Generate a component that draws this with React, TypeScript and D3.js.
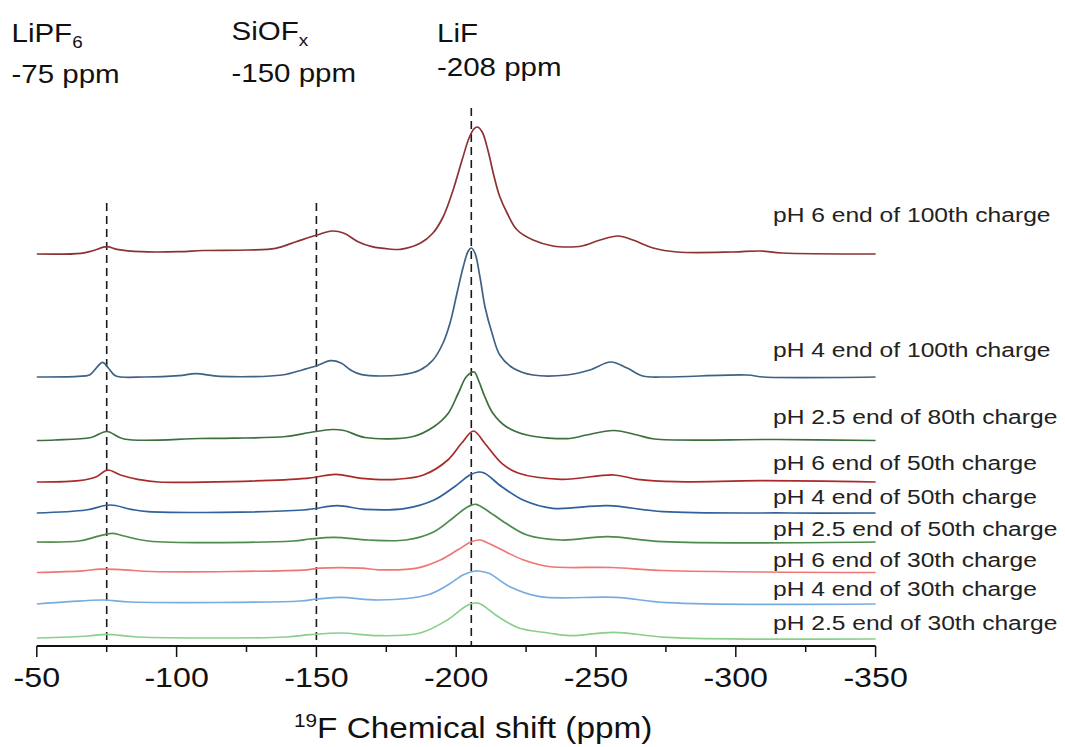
import React from "react";
import * as d3 from "d3";

// ---- data: [ppm, intensity above own baseline] ----
const pH6_100: [number, number][] = [[-50,0],[-65.8,0.7],[-70.1,3.3],[-75,7.3],[-78.7,4.7],[-87.3,2.3],[-100.9,2.3],[-109.5,3.5],[-125.5,4],[-135.4,5.7],[-142.7,12.3],[-150.2,19],[-155.6,23],[-159.9,20.7],[-164.9,12.3],[-169.9,7.3],[-176,5],[-180,4.7],[-187.1,10.7],[-191.7,21],[-195.3,37],[-198.9,64],[-202.1,94],[-204.6,116],[-206.3,125],[-207.6,127],[-209.3,122],[-211.5,102],[-213.5,78],[-215.5,58],[-218.2,41],[-221.8,24],[-227.5,14],[-234.6,8],[-240,7],[-245,8],[-251.5,14],[-257.9,18],[-263.2,14],[-270.4,6],[-279,2],[-299,2],[-308.7,3],[-316.5,1],[-350,0]];
const pH4_100: [number, number][] = [[-50,0],[-64.6,0.7],[-68.8,2],[-73.5,14.7],[-75.6,9],[-78.1,1.3],[-88.6,0],[-100.9,1.3],[-106.9,3.3],[-115.5,0.7],[-137.7,2],[-145.2,7.3],[-150.2,11.3],[-155.1,16.3],[-158.8,14],[-162.4,6.7],[-166.2,2.3],[-179.9,2],[-187.1,7],[-191.7,17],[-195.3,34],[-197.8,54],[-200.3,84],[-202.5,110],[-204.3,126],[-205.4,129],[-206.7,124],[-208.5,100],[-210.3,70],[-212.8,44],[-215.6,22],[-220.3,9],[-227.5,2],[-239.6,2],[-247.8,7],[-255.3,15],[-261.1,9],[-266.8,1],[-274,0],[-304,2],[-310,0],[-350,0]];
const pH25_80: [number, number][] = [[-50,0],[-56.5,0.5],[-69.4,3],[-75,9],[-81.2,1.5],[-108.4,2],[-120.5,2.3],[-139.1,4],[-147.7,8],[-155.6,11],[-159.9,10],[-167.4,3],[-184.6,4],[-192.1,14],[-197.1,27],[-200.7,47],[-203.7,64],[-206.4,68.5],[-208,60],[-210.2,44],[-213.2,27],[-217.8,14],[-225.3,5.5],[-240.6,2],[-246.6,5.5],[-256.4,10],[-264.8,5.5],[-270.9,1.5],[-314.9,1],[-350,0]];
const pH6_50: [number, number][] = [[-50,0],[-65.1,1.3],[-71.3,5.3],[-75.3,12],[-79.9,7],[-86.1,2.7],[-93.5,0],[-146.5,3.7],[-156.9,7.7],[-166.2,3.7],[-178.5,2.7],[-188.3,7],[-197,22],[-201.9,38.7],[-206.2,51],[-210.2,38.7],[-216.3,18.7],[-222.4,8.7],[-237.5,2.7],[-256.4,7],[-264.8,2.7],[-278.5,0.3],[-308.8,1.3],[-350,0]];
const pH4_50: [number, number][] = [[-50,0],[-67.6,3],[-76.2,8],[-83.7,3.7],[-89.8,1.3],[-145.2,3],[-157.5,7.3],[-167.4,3.7],[-182,4.7],[-192.1,13],[-199.4,26.3],[-204.9,38],[-208,41],[-210.2,39.7],[-216.3,26.3],[-223.9,13],[-234.5,4.7],[-254.2,7.3],[-274,1.3],[-319.4,0],[-350,0]];
const pH25_50: [number, number][] = [[-50,0],[-65.1,1],[-71.3,5.3],[-76.9,8.7],[-81.2,6],[-89.8,1],[-141.6,1],[-147.7,3],[-156.3,4.7],[-168.6,2],[-182,2],[-192.1,10.3],[-199.4,25.3],[-204.2,35.3],[-207.1,37.7],[-211.7,30.3],[-217.8,18.7],[-225.3,7],[-237.5,2],[-254.2,5.3],[-274,0.3],[-350,0]];
const pH6_30: [number, number][] = [[-50,0],[-66.4,1.7],[-72.6,3.3],[-81.2,2.7],[-91,1],[-146.5,2.7],[-151.3,4.3],[-166.2,4.3],[-172.3,2.7],[-185.9,4.3],[-194.5,12.7],[-200.6,22.7],[-205.6,31],[-208.5,32.5],[-210.2,31],[-216.3,22.7],[-223.9,12.7],[-233,6],[-255.7,5],[-274,2],[-350,0]];
const pH4_30: [number, number][] = [[-50,0],[-61.5,2.3],[-73.7,4],[-83.7,2],[-144.1,3],[-150.2,5],[-158.8,6.7],[-172.3,4],[-189.6,9],[-197,19],[-202.4,29],[-206.7,33],[-208,33],[-211.7,30.7],[-219.2,17.3],[-230,7.3],[-257.1,6.7],[-275.4,1.3],[-350,0]];
const pH25_30: [number, number][] = [[-50,0],[-68.2,2],[-75,3.7],[-86.1,1],[-139.1,1],[-147.7,3.3],[-158.8,5],[-172.3,2.3],[-187.1,5],[-197,18.3],[-203.7,32.3],[-206.7,35],[-208.7,34],[-214.8,21.7],[-222.4,10],[-233,5],[-240.6,2.3],[-256.4,5.7],[-275.4,0.7],[-350,-1]];

const spectra = [pH6_100, pH4_100, pH25_80, pH6_50, pH4_50, pH25_50, pH6_30, pH4_30, pH25_30];
const offsets = [392, 269, 205.5, 164, 133, 104, 73.5, 42, 8];
const labels = [
  "pH 6 end of 100th charge",
  "pH 4 end of 100th charge",
  "pH 2.5 end of 80th charge",
  "pH 6 end of 50th charge",
  "pH 4 end of 50th charge",
  "pH 2.5 end of 50th charge",
  "pH 6 end of 30th charge",
  "pH 4 end of 30th charge",
  "pH 2.5 end of 30th charge",
];
const labelLevels = [424, 289, 222, 176, 142, 110, 79, 50, 16];
const colors = ["#8B3232", "#3F6184", "#3D6F3D", "#A82A2A", "#30619A", "#4B8B4B", "#F07575", "#78ACE0", "#8ACF8A"];

const markerPpm = [-75, -150, -205.4];
const markerTop = [443, 443, 538];
const markerNames = ["LiPF", "SiOF", "LiF"];
const markerSubs = ["6", "x", ""];
const markerValues = ["-75 ppm", "-150 ppm", "-208 ppm"];

const xTicks = [-50, -100, -150, -200, -250, -300, -350];
const xMinorTicks = [-75, -125, -175, -225, -275, -325];

const W = 1065, H = 747;

export default function App() {
  const x = d3.scaleLinear().domain([-50, -350]).range([36.8, 875.6]);
  const y = d3.scaleLinear().domain([0, 540]).range([646, 106]);
  const axisY = y(0);

  const lines = spectra.map((s, i) =>
    d3.line<[number, number]>()
      .x((d) => x(d[0]))
      .y((d) => y(d[1] + offsets[i]))
      .curve(d3.curveCatmullRom.alpha(0.5))(s) as string
  );

  const font = "Arial, 'Liberation Sans', sans-serif";
  const headerX = [11.5, 231.5, 437];
  const headerY1 = [41.7, 39.5, 41.7];
  const headerY2 = [83, 81.7, 76];

  return (
    <svg width={W} height={H} style={{ position: "absolute", left: 0, top: 0, background: "#fff" }} fontFamily={font}>
      <rect width={W} height={H} fill="#fff" />
      {markerPpm.map((p, i) => (
        <line key={"m" + i} x1={x(p)} x2={x(p)} y1={y(markerTop[i])} y2={axisY}
          stroke="#1a1a1a" strokeWidth={1.6} strokeDasharray="8,5" />
      ))}
      {lines.map((d, i) => (
        <path key={"s" + i} d={d} fill="none" stroke={colors[i]} strokeWidth={1.7} strokeLinejoin="round" />
      ))}
      {labels.map((t, i) => (
        <text key={"l" + i} transform={`translate(773,${y(labelLevels[i])}) scale(1.23,1)`} fontSize={20} fill="#222">{t}</text>
      ))}
      {markerNames.map((n, i) => (
        <g key={"h" + i}>
          <text transform={`translate(${headerX[i]},${headerY1[i]}) scale(1.18,1)`} fontSize={25} fill="#111">
            {n}
            {markerSubs[i] && <tspan fontSize={16} dy={6}>{markerSubs[i]}</tspan>}
          </text>
          <text transform={`translate(${headerX[i]},${headerY2[i]}) scale(1.18,1)`} fontSize={25} fill="#111">{markerValues[i]}</text>
        </g>
      ))}
      <line x1={x(-50)} x2={x(-350)} y1={axisY} y2={axisY} stroke="#111" strokeWidth={1.8} />
      {xTicks.map((t) => (
        <g key={"t" + t}>
          <line x1={x(t)} x2={x(t)} y1={axisY} y2={axisY + 11} stroke="#111" strokeWidth={1.5} />
          <text transform={`translate(${x(t)},687) scale(1.15,1)`} fontSize={28} textAnchor="middle" fill="#111">{t}</text>
        </g>
      ))}
      {xMinorTicks.map((t) => (
        <line key={"mt" + t} x1={x(t)} x2={x(t)} y1={axisY} y2={axisY + 6} stroke="#111" strokeWidth={1.5} />
      ))}
      <text transform={`translate(317,738) scale(1.15,1)`} fontSize={29} fill="#111">
        <tspan fontSize={18} dy={-11} dx={-23 / 1.15}>19</tspan>
        <tspan dy={11}>F Chemical shift (ppm)</tspan>
      </text>
    </svg>
  );
}
